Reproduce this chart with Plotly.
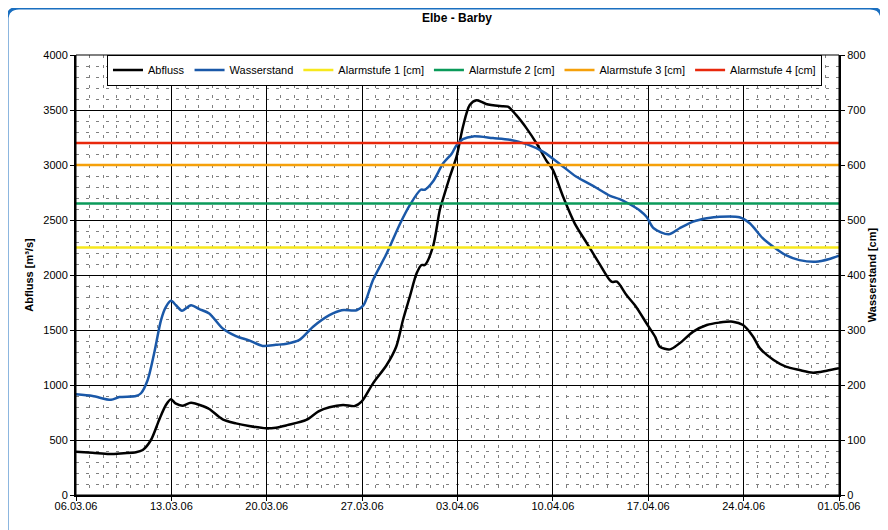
import pandas as pd
import plotly.graph_objects as go

start_date = "2006-03-06"
end_date = "2006-05-01"

# Abfluss [m³/s] : day offset from 06.03.06, value
abfluss_day = [0, 1.2, 2.45, 3.5, 4.4, 4.9, 5.5, 6.1, 6.6, 6.97, 7.3, 7.8, 8.44, 9.3, 9.78,
               10.76, 11.74, 12.7, 13.94, 14.67, 15.5, 16.9, 17.8, 18.6, 19.6, 20.47, 20.96,
               21.8, 22.8, 23.5, 24.0, 24.5, 25.0, 25.36, 25.6, 26.2, 26.7, 26.95, 27.44,
               27.93, 28.4, 28.9, 29.4, 30.1, 31.1, 31.7, 32.3, 33.07, 33.8, 34.5, 35.0,
               35.75, 36.6, 37.5, 38.4, 39.3, 39.7, 40.4, 41.1, 41.87, 42.5, 42.85, 43.6,
               44.3, 45.3, 46.3, 47.2, 48.2, 48.96, 49.7, 50.2, 51.2, 52.1, 53.1, 54.1,
               55.1, 56.0]
abfluss_val = [394, 385, 373, 380, 388, 409, 500, 682, 818, 870, 833, 812, 839, 809, 782,
               688, 651, 627, 606, 612, 635, 682, 760, 797, 818, 809, 848,
               1015, 1182, 1348, 1591, 1803, 2015, 2091, 2091, 2257, 2591, 2697, 2894,
               3076, 3348, 3545, 3588, 3555, 3536, 3530, 3455, 3333, 3197, 3045, 2955,
               2712, 2470, 2288, 2106, 1939, 1939, 1818, 1712, 1561, 1439, 1348, 1324,
               1379, 1485, 1545, 1567, 1576, 1545, 1439, 1333, 1227, 1167, 1136, 1112,
               1130, 1152]

# Wasserstand [cm]
wasser_day = [0, 1.22, 2.57, 3.18, 4.4, 4.77, 5.26, 5.74, 6.24, 6.6, 6.97, 7.34, 7.78, 8.44,
              9.05, 9.78, 10.76, 11.74, 12.7, 13.7, 14.67, 15.46, 16.4, 17.4, 18.6, 19.5,
              20.6, 21.1, 21.8, 22.8, 23.8, 24.5, 25.3, 25.6, 26.2, 26.95, 27.56, 27.93,
              28.4, 29.15, 30.6, 31.84, 33.07, 34.3, 35.5, 36.7, 37.95, 39.2, 39.9, 40.9,
              41.4, 41.87, 42.4, 43.5, 44.3, 45.3, 46.3, 47.25, 48.7, 49.45, 50.4, 51.2,
              52.1, 53.1, 54.3, 55.3, 56.0]
wasser_val = [183, 180, 173, 178, 180, 185, 209, 258, 318, 342, 353, 345, 335, 345,
              338, 330, 303, 289, 281, 271, 273, 275, 282, 306, 327, 336,
              336, 345, 391, 439, 494, 527, 555, 555, 570, 603, 620, 636,
              647, 652, 649, 646, 638, 624, 602, 579, 562, 544, 538, 525,
              517, 506, 485, 474, 485, 497, 503, 506, 505, 494, 467, 451,
              436, 427, 424, 429, 435]

alarm_names = ["Alarmstufe 1 [cm]", "Alarmstufe 2 [cm]", "Alarmstufe 3 [cm]", "Alarmstufe 4 [cm]"]
alarm_levels = [450, 530, 600, 640]
alarm_colors = ["#f7e81c", "#0a9a5a", "#f5a00a", "#e8280c"]

base = pd.Timestamp(start_date)
ab_x = [base + pd.Timedelta(days=d) for d in abfluss_day]
ws_x = [base + pd.Timedelta(days=d) for d in wasser_day]

fig = go.Figure()
fig.add_trace(go.Scatter(x=ab_x, y=abfluss_val, name="Abfluss", mode="lines",
                         line=dict(color="#000000", width=2.5, shape="spline", smoothing=0.8),
                         yaxis="y"))
fig.add_trace(go.Scatter(x=ws_x, y=wasser_val, name="Wasserstand", mode="lines",
                         line=dict(color="#1a58a8", width=2.5, shape="spline", smoothing=0.8),
                         yaxis="y2"))
for name, lvl, col in zip(alarm_names, alarm_levels, alarm_colors):
    fig.add_trace(go.Scatter(x=[start_date, end_date], y=[lvl, lvl], name=name, mode="lines",
                             line=dict(color=col, width=2.5), yaxis="y2"))

# The page places the figure 8px from the top-left corner; size/margins compensate.
W, H = 880, 522
L, R, T, B = 68, W - 831, 47, H - 487
PW, PH = W - L - R, H - T - B
font = "Liberation Sans, Arial, sans-serif"
fig.update_layout(
    width=W, height=H,
    margin=dict(l=L, r=R, t=T, b=B, autoexpand=False),
    paper_bgcolor="white", plot_bgcolor="white",
    font=dict(family=font, size=11, color="black"),
    title=dict(text="<b>Elbe - Barby</b>", x=449 / W, xanchor="center",
               y=1 - 10 / H, yanchor="middle", font=dict(size=12)),
    showlegend=True,
    legend=dict(orientation="h", x=0.9777, xanchor="right", y=(495 - 70) / 440,
                yanchor="middle", bgcolor="white", bordercolor="black", borderwidth=1,
                font=dict(size=11), itemwidth=30, tracegroupgap=0),
    xaxis=dict(type="date", range=[start_date, end_date], tick0=start_date,
               dtick=7 * 86400000, tickformat="%d.%m.%y", ticks="outside", ticklen=4,
               tickcolor="black", showline=True, linecolor="black", linewidth=2,
               showgrid=True, gridcolor="black", gridwidth=1, zeroline=False,
               ticklabelstandoff=-4,
               minor=dict(dtick=86400000, showgrid=True, gridcolor="#808080",
                          griddash="3px,7px", gridwidth=1, ticks=""),
               tickfont=dict(size=11)),
    yaxis=dict(range=[0, 4000], dtick=500, ticks="outside", ticklen=4, tickcolor="black",
               showline=True, linecolor="black", linewidth=2, showgrid=True,
               gridcolor="black", gridwidth=1, zeroline=False,
               minor=dict(dtick=100, showgrid=True, gridcolor="#808080",
                          griddash="3px,7px", gridwidth=1, ticks=""),
               title=dict(text="<b>Abfluss [m³/s]</b>", font=dict(size=11), standoff=7)),
    yaxis2=dict(range=[0, 800], dtick=100, overlaying="y", side="right", ticks="outside",
                ticklen=4, tickcolor="black", showline=True, linecolor="black", linewidth=2,
                showgrid=False, zeroline=False,
                title=dict(text="<b>Wasserstand [cm]</b>", font=dict(size=11), standoff=1)),
)

# plot-area frame
fig.add_shape(type="rect", xref="paper", yref="paper", x0=0, x1=1, y0=0, y1=1,
              line=dict(color="black", width=1), layer="above")

# rounded outer chart border (page pixel -> plot paper fraction)
px = lambda p: (p - 76) / PW
py = lambda p: (495 - p) / PH
rx, ry = 12 / PW, 12 / PH
x0, x1, y1, y0 = px(7), px(882), py(8), py(560)
path = (f"M {x0},{y0} L {x0},{y1 - ry} Q {x0},{y1} {x0 + rx},{y1} "
        f"L {x1 - rx},{y1} Q {x1},{y1} {x1},{y1 - ry} L {x1},{y0}")
fig.add_shape(type="path", xref="paper", yref="paper", path=path,
              line=dict(color="#1a6fc0", width=3))

fig.write_html("out.html")
